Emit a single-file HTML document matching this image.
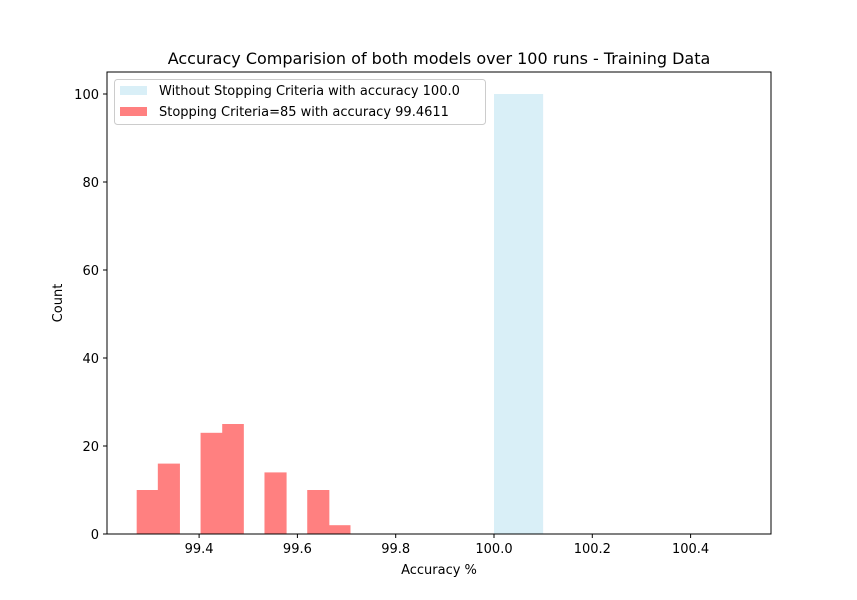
<!DOCTYPE html>
<html><head><meta charset="utf-8"><style>
body{margin:0;background:#fff;}
svg{display:block;font-family:"DejaVu Sans","Liberation Sans",sans-serif;}
</style></head><body>
<svg id="chart" width="857" height="600">
<rect width="857" height="600" fill="#fff"/>
<text x="439" y="64" font-size="16" text-anchor="middle" fill="#000">Accuracy Comparision of both models over 100 runs - Training Data</text>
<g id="bars"></g>
<rect x="107" y="72" width="664" height="462" fill="none" stroke="#000" stroke-width="1"/>
<g id="xt"></g><g id="yt"></g>
<text x="439" y="574" font-size="13" text-anchor="middle">Accuracy %</text>
<text x="62" y="303" font-size="13" text-anchor="middle" transform="rotate(-90 62 303)">Count</text>
<g>
<rect x="114.5" y="79.5" width="371" height="45" rx="3" fill="#fff" fill-opacity="0.8" stroke="#ccc"/>
<rect x="120" y="86" width="27" height="9" fill="#d9eff7"/>
<text x="159" y="95" font-size="13">Without Stopping Criteria with accuracy 100.0</text>
<rect x="120" y="107" width="27" height="9" fill="#ff8080"/>
<text x="159" y="116" font-size="13">Stopping Criteria=85 with accuracy 99.4611</text>
</g>
</svg>
<script>
const redEdges=[99.273,99.316,99.360,99.403,99.447,99.490,99.533,99.577,99.620,99.664,99.707];
const redCounts=[10,16,0,23,25,0,14,0,10,2];
const blueEdges=[100.0,100.1,100.2,100.3,100.4,100.5];
const blueCounts=[100,0,0,0,0];
const xTicks=[99.4,99.6,99.8,100.0,100.2,100.4];
const yTicks=[0,20,40,60,80,100];
const NS="http://www.w3.org/2000/svg";
const X=v=>494+(v-100)*491.5;
const Y=v=>534-v*4.4;
function mk(tag,attrs,parent){const e=document.createElementNS(NS,tag);for(const k in attrs)e.setAttribute(k,attrs[k]);parent.appendChild(e);return e;}
const bars=document.getElementById('bars');
blueCounts.forEach((c,i)=>{if(!c)return;const r=mk('rect',{x:X(blueEdges[i]),y:Y(c),width:X(blueEdges[i+1])-X(blueEdges[i]),height:Y(0)-Y(c),fill:'#d9eff7'},bars);

});
redCounts.forEach((c,i)=>{if(!c)return;const r=mk('rect',{x:X(redEdges[i]),y:Y(c),width:X(redEdges[i+1])-X(redEdges[i])+0.5,height:Y(0)-Y(c),fill:'#ff8080'},bars);

});
const xt=document.getElementById('xt');
xTicks.forEach(v=>{const x=X(v);mk('line',{x1:x,x2:x,y1:534,y2:538,stroke:'#000'},xt);
const t=mk('text',{x:x,y:553,'font-size':13,'text-anchor':'middle'},xt);t.textContent=v.toFixed(1);

});
const yt=document.getElementById('yt');
yTicks.forEach(v=>{const y=Y(v);mk('line',{x1:103,x2:107,y1:y,y2:y,stroke:'#000'},yt);
const t=mk('text',{x:99,y:y+5,'font-size':13,'text-anchor':'end'},yt);t.textContent=v;

});
</script>
</body></html>
